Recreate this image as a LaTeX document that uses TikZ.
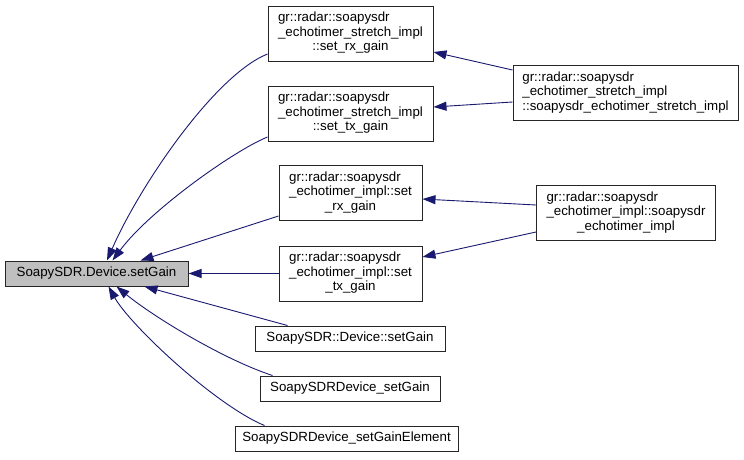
\documentclass[tikz,border=0pt]{standalone}
\usepackage{fontspec}
\setmainfont{Liberation Sans}
\usetikzlibrary{arrows.meta,calc}
\definecolor{edgeblue}{HTML}{191970}
\definecolor{boxgray}{HTML}{BFBFBF}
\newcommand\threel[3]{\begin{tabular}{@{}l@{}}#1\\#2\\\multicolumn{1}{@{}c@{}}{#3}\end{tabular}}
\tikzset{
  fnbox/.style={draw=black!85, line width=1pt, fill=white, inner sep=0pt,
    align=center, font=\fontsize{13.3}{14.5}\selectfont},
  edge/.style={draw=edgeblue, line width=0.9pt, -{Triangle[length=13pt,width=9pt]}}
}
\begin{document}
\begin{tikzpicture}[x=1pt,y=-1pt]
\useasboundingbox (0,0) rectangle (744,459);
\node[fnbox, fill=boxgray, minimum width=183pt, minimum height=25pt] (A) at (96.5,273.5) {SoapySDR.Device.setGain};
\node[fnbox, minimum width=165pt, minimum height=55pt] (B1) at (350.5,33.5) {\threel{gr::radar::soapysdr}{\_echotimer\_stretch\_impl}{::set\_rx\_gain}};
\node[fnbox, minimum width=165pt, minimum height=55pt] (B2) at (350.5,113.5) {\threel{gr::radar::soapysdr}{\_echotimer\_stretch\_impl}{::set\_tx\_gain}};
\node[fnbox, minimum width=143pt, minimum height=55pt] (B3) at (350.5,193) {\threel{gr::radar::soapysdr}{\_echotimer\_impl::set}{\_rx\_gain}};
\node[fnbox, minimum width=143pt, minimum height=55pt] (B4) at (350.5,273.5) {\threel{gr::radar::soapysdr}{\_echotimer\_impl::set}{\_tx\_gain}};
\node[fnbox, minimum width=190pt, minimum height=25pt] (B5) at (350,338.5) {SoapySDR::Device::setGain};
\node[fnbox, minimum width=180pt, minimum height=25pt] (B6) at (350,388.5) {SoapySDRDevice\_setGain};
\node[fnbox, minimum width=223pt, minimum height=25pt] (B7) at (346.5,438.5) {SoapySDRDevice\_setGainElement};
\node[fnbox, minimum width=225pt, minimum height=55pt] (C1) at (625.5,93) {\threel{gr::radar::soapysdr}{\_echotimer\_stretch\_impl}{::soapysdr\_echotimer\_stretch\_impl}};
\node[fnbox, minimum width=179pt, minimum height=55pt] (C2) at (626,213) {\threel{gr::radar::soapysdr}{\_echotimer\_impl::soapysdr}{\_echotimer\_impl}};

\draw[edge] ($(C1.west)+(0,-23)$) -- ($(B1.east)+(0,18.5)$);
\draw[edge] ($(C1.west)+(0,9)$) -- ($(B2.east)+(0,-6.5)$);
\draw[edge] ($(C2.west)+(0,-8)$) -- ($(B3.east)+(0,6)$);
\draw[edge] ($(C2.west)+(0,19)$) -- ($(B4.east)+(0,-16.5)$);

\draw[edge] ($(B1.west)+(0,20.5)$) .. controls (215,75) and (140,185) .. ($(A.north)+(10.5,0)$);
\draw[edge] ($(B2.west)+(0,23.5)$) .. controls (235,150) and (150,210) .. ($(A.north)+(16,0)$);
\draw[edge] ($(B3.west)+(0,23)$) -- ($(A.north)+(44,0)$);
\draw[edge] (B4.west) -- (A.east);
\draw[edge] ($(B5.north west)+(33,0)$) -- ($(A.south)+(48,0)$);
\draw[edge] ($(B6.north west)+(13,0)$) .. controls (225,360) and (155,318) .. ($(A.south)+(20,0)$);
\draw[edge] ($(B7.north west)+(30,0)$) .. controls (215,405) and (130,325) .. ($(A.south)+(12,0)$);
\end{tikzpicture}
\end{document}
